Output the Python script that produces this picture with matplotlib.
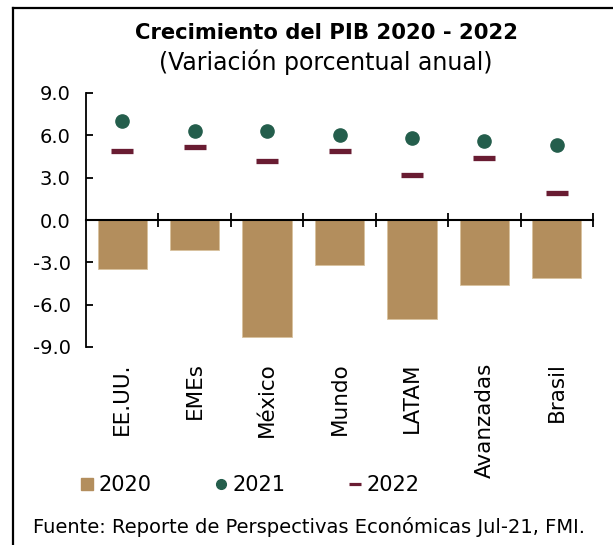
import matplotlib
matplotlib.use("Agg")
import matplotlib.pyplot as plt
from matplotlib.lines import Line2D
import numpy as np

categories = ["EE.UU.", "EMEs", "México", "Mundo", "LATAM", "Avanzadas", "Brasil"]
v2020 = [-3.5, -2.1, -8.3, -3.2, -7.0, -4.6, -4.1]
v2021 = [7.0, 6.3, 6.3, 6.0, 5.8, 5.6, 5.3]
v2022 = [4.9, 5.2, 4.2, 4.9, 3.2, 4.4, 1.9]
yticks = [-9.0, -6.0, -3.0, 0.0, 3.0, 6.0, 9.0]
series_names = ["2020", "2021", "2022"]

c_bar = "#B38E5D"
c_dot = "#245E4C"
c_dash = "#691C32"

plt.rcParams['font.family'] = ['DejaVu Sans']

W, H = 613, 545
fig = plt.figure(figsize=(W / 100, H / 100), dpi=100)

ax = fig.add_axes([86 / W, 1 - 347 / H, (593 - 86) / W, (347 - 93) / H])
x = np.arange(len(categories))

ax.bar(x, v2020, width=0.68, color=c_bar, edgecolor="#D8C29E", linewidth=0.6, zorder=2)
ax.plot(x, v2021, linestyle="none", marker="o", markersize=9.5, color=c_dot, zorder=3)
ax.plot(x, v2022, linestyle="none", marker="_", markersize=16, markeredgewidth=3.8,
        color=c_dash, zorder=3)

ax.set_xlim(-0.5, len(categories) - 0.5)
ax.set_ylim(-9, 9)
ax.set_yticks(yticks)
ax.set_yticklabels([f"{v:.1f}" for v in yticks])
ax.tick_params(axis="y", direction="in", length=5, width=1.3, pad=11, labelsize=14,
               colors="black")

for s in ["top", "right"]:
    ax.spines[s].set_visible(False)
ax.spines["left"].set_linewidth(1.3)
ax.spines["bottom"].set_position(("data", 0))
ax.spines["bottom"].set_linewidth(1.5)
ax.set_xticks(np.arange(0.5, len(categories), 1.0))
ax.set_xticklabels([])
ax.tick_params(axis="x", direction="inout", length=10, width=1.3)

sec = ax.secondary_xaxis("bottom")
sec.set_xticks(x)
sec.set_xticklabels(categories, rotation=90, fontsize=15.5)
sec.tick_params(length=0, pad=11)
sec.spines["bottom"].set_visible(False)

fig.text(0.532, 1 - 33 / H, "Crecimiento del PIB 2020 - 2022", ha="center", va="center",
         fontsize=15.2, fontweight="bold")
fig.text(0.532, 1 - 62 / H, "(Variación porcentual anual)", ha="center", va="center",
         fontsize=17)

handles = [
    Line2D([], [], linestyle="none", marker="s", markersize=9, color=c_bar),
    Line2D([], [], linestyle="none", marker="o", markersize=7, color=c_dot),
    Line2D([], [], linestyle="none", marker="_", markersize=8, markeredgewidth=2.3, color=c_dash),
]
fig.legend(handles, series_names, ncol=3, loc="center left",
           bbox_to_anchor=(79 / W, 1 - 485 / H), frameon=False, fontsize=15,
           handlelength=0.8, handletextpad=0.13, columnspacing=2.95, borderpad=0,
           borderaxespad=0)

fig.text(33 / W, 1 - 527 / H, "Fuente: Reporte de Perspectivas Económicas Jul-21, FMI.",
         ha="left", va="center", fontsize=14)

# frame lines (left and top)
fig.add_artist(Line2D([13 / W, 13 / W], [0, 1 - 8 / H], color="black", linewidth=1.6,
                      transform=fig.transFigure))
fig.add_artist(Line2D([13 / W, 1], [1 - 8 / H, 1 - 8 / H], color="black", linewidth=1.6,
                      transform=fig.transFigure))

fig.savefig("out.png", dpi=100)
